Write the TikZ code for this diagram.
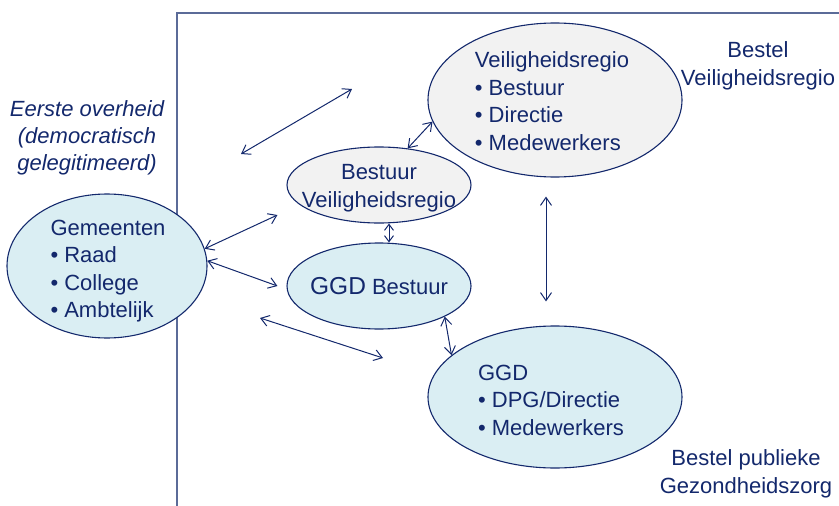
\documentclass[tikz,border=0pt]{standalone}
\usepackage{fontspec}
\setmainfont{Liberation Sans}
\usepackage{tikz}
\usetikzlibrary{arrows.meta,shapes.geometric,positioning}
\definecolor{NavyText}{HTML}{13286C}
\definecolor{FrameLine}{HTML}{5B6B98}
\definecolor{LightCyan}{HTML}{DAEEF3}
\definecolor{LightGrey}{HTML}{F2F2F2}

\begin{document}
\begin{tikzpicture}[x = 1pt, y = -1pt]
  \tikzset{body/.style = {shape = ellipse, inner sep = 0pt, draw = NavyText, line width = 1.1pt}}
  \tikzset{local/.style = {body, fill = LightCyan}}
  \tikzset{region/.style = {body, fill = LightGrey}}
  \tikzset{caption/.style = {text = NavyText, align = center, inner sep = 0pt, font = \fontsize{22}{27.5}\selectfont}}
  \tikzset{items/.style = {caption, align = left}}
  \tikzset{link/.style = {draw = NavyText, line width = 1pt, <->, > = {Straight Barb[length = 8pt, width = 11pt]}}}
  \tikzset{shortlink/.style = {link, > = {Straight Barb[length = 6pt, width = 9pt]}}}

  \useasboundingbox (0,0) rectangle (839,506);
  \draw[FrameLine, line width = 1.5pt] (177,506) -- (177,13) -- (839,13);

  \node[local, minimum width = 200pt, minimum height = 144pt] (Gem) at (107,266) {};
  \node[region, minimum width = 254pt, minimum height = 154pt] (VR) at (555,100) {};
  \node[region, minimum width = 184pt, minimum height = 76pt] (BVR) at (379,185) {};
  \node[local, minimum width = 184pt, minimum height = 86pt] (GGDB) at (379,286) {};
  \node[local, minimum width = 254pt, minimum height = 142pt] (GGD) at (555,397) {};

  \node[items] (GemText) at ([shift = {(1,5)}]Gem) {Gemeenten\\• Raad\\• College\\• Ambtelijk};
  \node[items] (VRText) at ([shift = {(-3,1)}]VR) {Veiligheidsregio\\• Bestuur\\• Directie\\• Medewerkers};
  \node[caption] (BVRText) at ([shift = {(0,3)}]BVR) {Bestuur\\Veiligheidsregio};
  \node[caption] (GGDBText) at (GGDB) {{\fontsize{24.5}{27}\selectfont GGD} Bestuur};
  \node[items] (GGDText) at ([shift = {(-4,3)}]GGD) {GGD\\• DPG/Directie\\• Medewerkers};

  \node[caption, font = \itshape\fontsize{22}{27}\selectfont] (Overheid) at (87,138) {Eerste overheid\\(democratisch\\gelegitimeerd)};
  \node[caption] (BestelVR) at (758,66) {Bestel\\Veiligheidsregio};
  \node[caption] (BestelGZ) at (746,474) {Bestel publieke\\Gezondheidszorg};

  % losse pijlen
  \coordinate (FreeA1) at (241,154);
  \coordinate (FreeA2) at (352,89);
  \coordinate (FreeB1) at (260,318);
  \coordinate (FreeB2) at (383,358);

  \draw[link] (FreeA1) -- (FreeA2);
  \draw[link] (BVR.52) -- (VR.190);
  \draw[link] (Gem.10) -- ([shift = {(-9,30)}]BVR.west);
  \draw[shortlink] ([xshift = 10pt]BVR.south) -- ([xshift = 10pt]GGDB.north);
  \draw[link] (Gem.3) -- ([xshift = -9pt]GGDB.west);
  \draw[link] (FreeB1) -- (FreeB2);
  \draw[link] (GGDB.-25) -- (GGD.158);
  \draw[link, shorten <= 19pt, shorten >= 24pt] ([xshift = -9pt]VR.south) -- ([xshift = -9pt]GGD.north);
\end{tikzpicture}
\end{document}
